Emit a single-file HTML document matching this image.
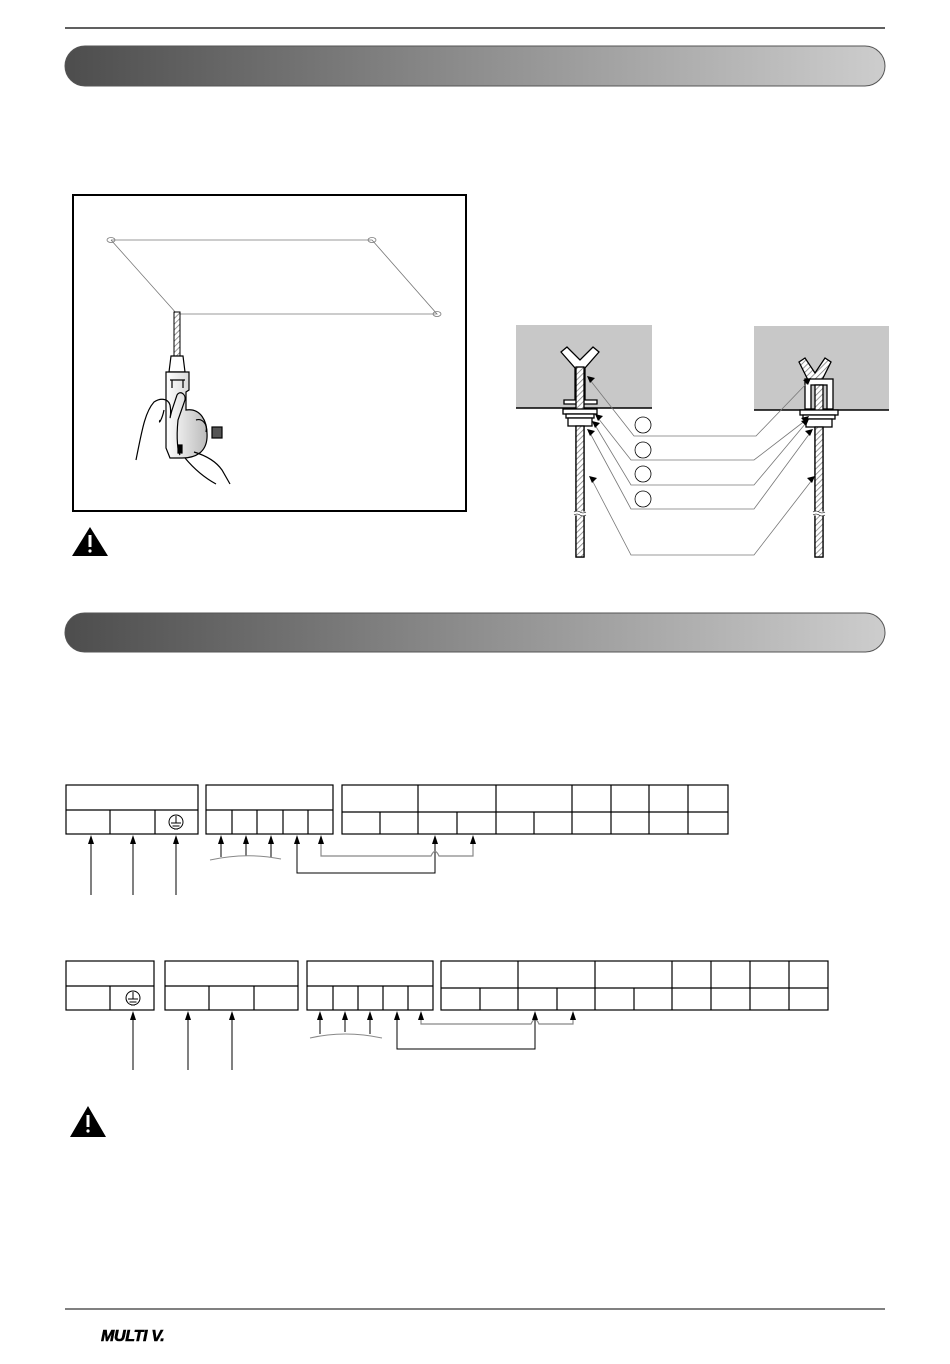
<!DOCTYPE html>
<html><head><meta charset="utf-8"><style>
html,body{margin:0;padding:0;background:#fff;width:950px;height:1364px;overflow:hidden}
svg{display:block}
</style></head><body>
<svg width="950" height="1364" viewBox="0 0 950 1364" xmlns="http://www.w3.org/2000/svg" font-family="Liberation Sans, sans-serif">
<defs>
<linearGradient id="bar" x1="0" x2="1" y1="0" y2="0">
<stop offset="0" stop-color="#4d4d4d"/><stop offset="0.5" stop-color="#8e8e8e"/><stop offset="1" stop-color="#cdcdcd"/>
</linearGradient>
<linearGradient id="body" x1="0" x2="1" y1="0" y2="0">
<stop offset="0" stop-color="#fff"/><stop offset="1" stop-color="#bbb"/>
</linearGradient>
<pattern id="hatch" width="4" height="4" patternUnits="userSpaceOnUse" patternTransform="rotate(45)">
<rect width="4" height="4" fill="#fff"/><line x1="0" y1="0" x2="0" y2="4" stroke="#777" stroke-width="1.5"/>
</pattern>
</defs>
<line x1="65" y1="28" x2="885" y2="28" stroke="#000" stroke-width="1.2"/>
<rect x="65" y="46" width="820" height="40" rx="20" fill="url(#bar)" stroke="#555" stroke-width="1"/>
<rect x="65" y="613" width="820" height="39" rx="19.5" fill="url(#bar)" stroke="#555" stroke-width="1"/>

<!-- drill box -->
<rect x="73" y="195" width="393" height="316" fill="#fff" stroke="#000" stroke-width="2"/>
<g stroke="#777" stroke-width="0.8" fill="none">
<polyline points="111,240 372,240 437,314 177,314 111,240"/>
<ellipse cx="111" cy="240" rx="4" ry="2.5"/><ellipse cx="372" cy="240" rx="4" ry="2.5"/><ellipse cx="437" cy="314" rx="4" ry="2.5"/>
</g>
<rect x="174" y="312" width="6" height="44" fill="url(#hatch)" stroke="#000" stroke-width="1"/>
<g stroke="#000" stroke-width="1.2">
<path d="M171,356 L183,356 L185,372 L169,372 Z" fill="#fff"/>
<path d="M166,372 L189,372 L189,390 L186,392 L186,410 C200,408 208,420 207,438 C206,452 196,458 182,458 L170,458 L166,448 Z" fill="url(#body)"/>
<path d="M170,380 L185,380 M172,380 L172,388 M183,380 L183,388" fill="none"/>
<rect x="212" y="427" width="10" height="11" fill="#555"/>
<rect x="178" y="445" width="4" height="8" fill="#000"/>
<path d="M136,460 C142,430 145,412 154,402 C160,398 168,398 170,405 C172,415 168,425 172,410 L177,395 C180,390 186,394 185,400 L178,420 C176,440 178,452 180,455" fill="none"/>
<path d="M164,410 C162,420 158,425 160,420" fill="none"/>
<path d="M194,452 C204,455 215,460 222,470 L230,484 M185,458 C195,470 205,478 216,484 M196,420 C202,418 208,424 206,432" fill="none"/>
</g>
<!-- warning 1 -->
<path d="M90,527 L108,556 L72,556 Z" fill="#000"/>
<rect x="88.5" y="535" width="3" height="12" fill="#fff"/><circle cx="90" cy="551" r="1.6" fill="#fff"/>

<!-- bolts -->
<rect x="516" y="325" width="136" height="83" fill="#c8c8c8"/>
<line x1="516" y1="408" x2="652" y2="408" stroke="#000" stroke-width="1.5"/>
<rect x="754" y="326" width="135" height="84" fill="#c8c8c8"/>
<line x1="754" y1="410" x2="889" y2="410" stroke="#000" stroke-width="1.5"/>
<g stroke="#000" stroke-width="1.3">
<path d="M561,352 L567,347 L580,360 L593,347 L599,352 L585,368 L585,400 L597,400 L597,404 L564,404 L564,400 L575,400 L575,368 Z" fill="#fff"/>
<rect x="576" y="367" width="8" height="190" fill="url(#hatch)"/>
<rect x="563" y="409" width="34" height="5" fill="#fff"/>
<rect x="566" y="414" width="28" height="4" fill="#fff"/>
<rect x="568" y="418" width="24" height="8" fill="#fff"/>
<rect x="576" y="426" width="8" height="131" fill="url(#hatch)"/>
<path d="M799,362 L805,358 L815,373 L825,358 L831,362 L822,380 L808,380 Z" fill="url(#hatch)"/>
<rect x="805" y="379" width="28" height="30" fill="#fff"/>
<rect x="811" y="385" width="16" height="24" fill="#c8c8c8"/>
<rect x="815" y="385" width="8" height="172" fill="url(#hatch)"/>
<rect x="800" y="410" width="38" height="5" fill="#fff"/>
<rect x="803" y="415" width="32" height="4" fill="#fff"/>
<rect x="806" y="419" width="26" height="8" fill="#fff"/>
<rect x="815" y="427" width="8" height="130" fill="url(#hatch)"/>
</g>
<g fill="#fff" stroke="#fff"><rect x="574" y="512" width="12" height="3"/><rect x="813" y="512" width="12" height="3"/></g>
<g stroke="#000" stroke-width="0.6" fill="none"><path d="M574,512 q3,-2 6,0 t6,0 M574,515 q3,-2 6,0 t6,0 M813,512 q3,-2 6,0 t6,0 M813,515 q3,-2 6,0 t6,0"/></g>
<g stroke="#777" stroke-width="0.8" fill="none">
<polyline points="590,380 634,436 756,436 808,382"/>
<polyline points="598,418 631,460 754,460 806,420"/>
<polyline points="595,425 631,485 754,485 806,423"/>
<polyline points="590,433 631,509 754,509 810,433"/>
<polyline points="592,480 631,555 754,555 812,480"/>
<circle cx="643" cy="425" r="8" stroke="#000"/><circle cx="643" cy="450" r="8" stroke="#000"/>
<circle cx="643" cy="474" r="8" stroke="#000"/><circle cx="643" cy="499" r="8" stroke="#000"/>
</g>
<g fill="#000">
<path d="M587,376 l8,2 l-5,5 z"/><path d="M595,414 l8,2 l-5,5 z"/><path d="M592,421 l8,2 l-5,5 z"/><path d="M587,429 l8,2 l-5,5 z"/><path d="M589,476 l8,2 l-5,5 z"/>
<path d="M811,378 l-8,2 l5,5 z"/><path d="M809,416 l-8,2 l5,5 z"/><path d="M809,419 l-8,2 l5,5 z"/><path d="M813,429 l-8,2 l5,5 z"/><path d="M815,476 l-8,2 l5,5 z"/>
</g>

<!-- terminal row 1 -->
<g stroke="#000" stroke-width="1.2" fill="none">
<rect x="66" y="785" width="132" height="49"/><line x1="66" y1="810" x2="198" y2="810"/><line x1="110" y1="810" x2="110" y2="834"/><line x1="155" y1="810" x2="155" y2="834"/>
<rect x="206" y="785" width="127" height="49"/><line x1="206" y1="810" x2="333" y2="810"/>
<line x1="232" y1="810" x2="232" y2="834"/><line x1="257" y1="810" x2="257" y2="834"/><line x1="283" y1="810" x2="283" y2="834"/><line x1="308" y1="810" x2="308" y2="834"/>
<rect x="342" y="785" width="386" height="49"/><line x1="342" y1="812" x2="728" y2="812"/>
<line x1="418" y1="785" x2="418" y2="834"/><line x1="496" y1="785" x2="496" y2="834"/><line x1="572" y1="785" x2="572" y2="834"/><line x1="611" y1="785" x2="611" y2="834"/><line x1="649" y1="785" x2="649" y2="834"/><line x1="688" y1="785" x2="688" y2="834"/>
<line x1="380" y1="812" x2="380" y2="834"/><line x1="457" y1="812" x2="457" y2="834"/><line x1="534" y1="812" x2="534" y2="834"/>
<circle cx="176" cy="822" r="7" stroke-width="1"/>
</g>
<g stroke="#000" stroke-width="1"><line x1="171" y1="823" x2="181" y2="823"/><line x1="172.5" y1="826" x2="179.5" y2="826"/><line x1="174" y1="829" x2="178" y2="829"/><line x1="176" y1="816" x2="176" y2="823"/></g>
<g stroke="#000" stroke-width="1" fill="none">
<line x1="91" y1="895" x2="91" y2="840"/><line x1="133" y1="895" x2="133" y2="840"/><line x1="176" y1="895" x2="176" y2="840"/>
<line x1="221" y1="857" x2="221" y2="840"/><line x1="246" y1="856" x2="246" y2="840"/><line x1="271" y1="857" x2="271" y2="840"/>
<polyline points="297,840 297,873 435,873 435,840"/>
</g>
<path d="M210,860 Q246,852 281,859" stroke="#888" fill="none"/>
<path d="M321,840 L321,856 L431,856 Q435,847 439,856 L473,856 L473,840" stroke="#888" stroke-width="1.2" fill="none"/>
<g fill="#000">
<path d="M88,844 l3,-9 l3,9z"/><path d="M130,844 l3,-9 l3,9z"/><path d="M173,844 l3,-9 l3,9z"/>
<path d="M218,844 l3,-9 l3,9z"/><path d="M243,844 l3,-9 l3,9z"/><path d="M268,844 l3,-9 l3,9z"/>
<path d="M294,844 l3,-9 l3,9z"/><path d="M318,844 l3,-9 l3,9z"/><path d="M432,844 l3,-9 l3,9z"/><path d="M470,844 l3,-9 l3,9z"/>
</g>

<!-- terminal row 2 -->
<g stroke="#000" stroke-width="1.2" fill="none">
<rect x="66" y="961" width="88" height="49"/><line x1="66" y1="986" x2="154" y2="986"/><line x1="110" y1="986" x2="110" y2="1010"/>
<rect x="165" y="961" width="133" height="49"/><line x1="165" y1="986" x2="298" y2="986"/><line x1="209" y1="986" x2="209" y2="1010"/><line x1="254" y1="986" x2="254" y2="1010"/>
<rect x="307" y="961" width="126" height="49"/><line x1="307" y1="986" x2="433" y2="986"/>
<line x1="333" y1="986" x2="333" y2="1010"/><line x1="358" y1="986" x2="358" y2="1010"/><line x1="383" y1="986" x2="383" y2="1010"/><line x1="408" y1="986" x2="408" y2="1010"/>
<rect x="441" y="961" width="387" height="49"/><line x1="441" y1="988" x2="828" y2="988"/>
<line x1="518" y1="961" x2="518" y2="1010"/><line x1="595" y1="961" x2="595" y2="1010"/><line x1="672" y1="961" x2="672" y2="1010"/><line x1="711" y1="961" x2="711" y2="1010"/><line x1="750" y1="961" x2="750" y2="1010"/><line x1="789" y1="961" x2="789" y2="1010"/>
<line x1="480" y1="988" x2="480" y2="1010"/><line x1="557" y1="988" x2="557" y2="1010"/><line x1="634" y1="988" x2="634" y2="1010"/>
<circle cx="133" cy="998" r="7" stroke-width="1"/>
</g>
<g stroke="#000" stroke-width="1"><line x1="128" y1="999" x2="138" y2="999"/><line x1="129.5" y1="1002" x2="136.5" y2="1002"/><line x1="131" y1="1005" x2="135" y2="1005"/><line x1="133" y1="992" x2="133" y2="999"/></g>
<g stroke="#000" stroke-width="1" fill="none">
<line x1="133" y1="1070" x2="133" y2="1016"/><line x1="188" y1="1070" x2="188" y2="1016"/><line x1="232" y1="1070" x2="232" y2="1016"/>
<line x1="320" y1="1034" x2="320" y2="1016"/><line x1="345" y1="1032" x2="345" y2="1016"/><line x1="370" y1="1034" x2="370" y2="1016"/>
<polyline points="397,1016 397,1049 535,1049 535,1016"/>
</g>
<path d="M310,1038 Q345,1030 382,1038" stroke="#888" fill="none"/>
<path d="M421,1016 L421,1024 L531,1024 Q535,1015 539,1024 L573,1024 L573,1016" stroke="#888" stroke-width="1.2" fill="none"/>
<g fill="#000">
<path d="M130,1020 l3,-9 l3,9z"/><path d="M185,1020 l3,-9 l3,9z"/><path d="M229,1020 l3,-9 l3,9z"/>
<path d="M317,1020 l3,-9 l3,9z"/><path d="M342,1020 l3,-9 l3,9z"/><path d="M367,1020 l3,-9 l3,9z"/>
<path d="M394,1020 l3,-9 l3,9z"/><path d="M418,1020 l3,-9 l3,9z"/><path d="M532,1020 l3,-9 l3,9z"/><path d="M570,1020 l3,-9 l3,9z"/>
</g>

<!-- warning 2 -->
<path d="M88,1106 L106,1137 L70,1137 Z" fill="#000"/>
<rect x="86.5" y="1115" width="3" height="12" fill="#fff"/><circle cx="88" cy="1131" r="1.6" fill="#fff"/>

<line x1="65" y1="1309" x2="885" y2="1309" stroke="#000" stroke-width="1"/>
<text x="101" y="1341" font-size="16" font-weight="bold" font-style="italic" fill="#000" letter-spacing="-0.3" stroke="#000" stroke-width="0.6">MULTI V.</text>
</svg>
</body></html>
